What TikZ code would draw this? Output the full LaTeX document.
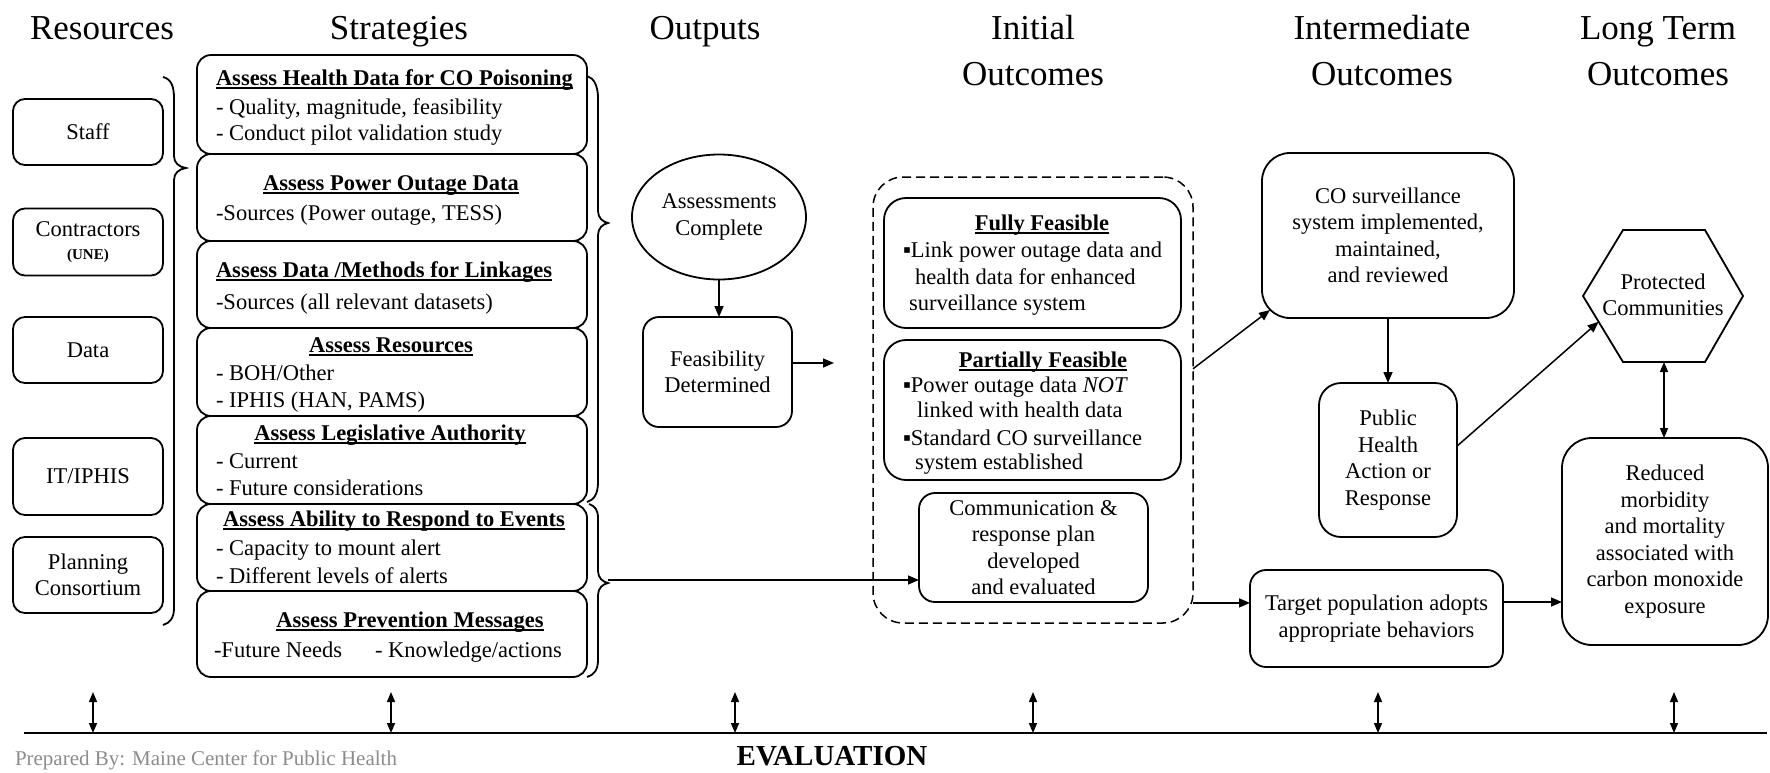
\documentclass[tikz,border=0pt]{standalone}
\usepackage{fontspec}
\setmainfont{Liberation Serif}
\usetikzlibrary{arrows.meta,calc,shapes.geometric}
\definecolor{creditgray}{gray}{0.55}
\newcommand\myttl[1]{\setbox0=\hbox{\bfseries #1}\rlap{\rule[-3.5pt]{\wd0}{1.7pt}}\box0}
\newcommand\bodyfont{\fontsize{22.5}{26.5}\selectfont}
\newcommand\hdrfont{\fontsize{35}{42}\selectfont}
\begin{document}
\begin{tikzpicture}[x=1pt,y=-1pt,
  every node/.style={inner sep=0pt,outer sep=0pt},
  ln/.style={line width=1.8pt},
  hdr/.style={anchor=base,font=\hdrfont},
  box/.style={draw,ln,font=\bodyfont,align=center},
  rbox/.style={box,rounded corners=12pt,minimum width=150pt},
  sbox/.style={draw,ln,rounded corners=14pt,minimum width=390pt},
  tl/.style={anchor=base west,font=\bodyfont},
  tc/.style={anchor=base,font=\bodyfont},
  arr/.style={line width=1.5pt,-{Triangle[length=11pt,width=9pt]}},
  darr/.style={line width=1.5pt,{Triangle[length=10pt,width=8pt]}-{Triangle[length=10pt,width=8pt]}}
]
\useasboundingbox (0,0) rectangle (1770,772);

% headers
\node[hdr] (hres) at (102,39) {Resources};
\node[hdr] (hstr) at (399,39) {Strategies};
\node[hdr] (hout) at (705,39) {Outputs};
\node[hdr] (hini1) at (1033,39) {Initial};
\node[hdr] (hini2) at (1033,85) {Outcomes};
\node[hdr] (hint1) at (1382,39) {Intermediate};
\node[hdr] (hint2) at (1382,85) {Outcomes};
\node[hdr] (hlong1) at (1658,39) {Long Term};
\node[hdr] (hlong2) at (1658,85) {Outcomes};

% resources
\node[rbox,minimum height=66pt] (staff) at (88,132) {Staff};
\node[rbox,minimum height=67pt] (contr) at (88,242) {Contractors\\[-3pt]{\fontsize{15}{16}\selectfont\bfseries (UNE)}};
\node[rbox,minimum height=66pt] (data) at (88,350) {Data};
\node[rbox,minimum height=77pt] (itiphis) at (88,476.5) {IT/IPHIS};
\node[rbox,minimum height=76pt] (plan) at (88,575) {Planning\\Consortium};

\draw[ln] (163,77) .. controls (171,79) and (174,86) .. (174,98) -- (174,156)
  .. controls (174,163) and (179,167) .. (186,168)
  .. controls (179,169) and (174,173) .. (174,180) -- (174,608)
  .. controls (174,618) and (170,623) .. (163,625);

% strategies
\node[sbox,minimum height=99pt] (s1) at (392,104.5) {};
\node[sbox,minimum height=87pt] (s2) at (392,197.5) {};
\node[sbox,minimum height=87pt] (s3) at (392,284.5) {};
\node[sbox,minimum height=88pt] (s4) at (392,372) {};
\node[sbox,minimum height=88pt] (s5) at (392,460) {};
\node[sbox,minimum height=87pt] (s6) at (392,547.5) {};
\node[sbox,minimum height=86pt] (s7) at (392,634) {};

\node[tl] (s1t) at (216,85) {\myttl{Assess Health Data for CO Poisoning}};
\node[tl] (s1a) at (216,114) {- Quality, magnitude, feasibility};
\node[tl] (s1b) at (216,140) {- Conduct pilot validation study};
\node[tc] (s2t) at (391,190) {\myttl{Assess Power Outage Data}};
\node[tl] (s2a) at (216,220) {-Sources (Power outage, TESS)};
\node[tl] (s3t) at (216,277) {\myttl{Assess Data /Methods for Linkages}};
\node[tl] (s3a) at (216,309) {-Sources (all relevant datasets)};
\node[tc] (s4t) at (391,352) {\myttl{Assess Resources}};
\node[tl] (s4a) at (216,380) {- BOH/Other};
\node[tl] (s4b) at (216,407) {- IPHIS (HAN, PAMS)};
\node[tc] (s5t) at (390,440) {\myttl{Assess Legislative Authority}};
\node[tl] (s5a) at (216,468) {- Current};
\node[tl] (s5b) at (216,495) {- Future considerations};
\node[tc] (s6t) at (394,526) {\myttl{Assess Ability to Respond to Events}};
\node[tl] (s6a) at (216,555) {- Capacity to mount alert};
\node[tl] (s6b) at (216,583) {- Different levels of alerts};
\node[tc] (s7t) at (410,627) {\myttl{Assess Prevention Messages}};
\node[tl] (s7a) at (214,657) {-Future Needs};
\node[tl] (s7b) at (375,657) {- Knowledge/actions};

\draw[ln] (587,76) .. controls (594,78) and (598,86) .. (598,98) -- (598,211)
  .. controls (598,218) and (603,222) .. (608,223)
  .. controls (603,224) and (598,228) .. (598,235) -- (598,482)
  .. controls (598,494) and (594,500) .. (587,502);
\draw[ln] (589,504) .. controls (595,506) and (598,510) .. (598,518) -- (598,571)
  .. controls (598,578) and (603,582) .. (608,583)
  .. controls (603,584) and (598,588) .. (598,595) -- (598,660)
  .. controls (598,670) and (594,675) .. (587,677);
\coordinate (bt2) at (608,580);

% outputs
\node[draw,ln,ellipse,minimum width=174pt,minimum height=125pt,font=\bodyfont,align=center] (assess) at (719,217) {Assessments\\Complete};
\node[box,rounded corners=16pt,minimum width=149pt,minimum height=110pt] (feas) at (717.5,372) {Feasibility\\Determined};
\draw[arr] (assess.south) -- (assess.south |- feas.north);
\coordinate (feasend) at (834,363);
\draw[arr] (feas.east |- feasend) -- (feasend);

% initial outcomes
\node[draw,line width=1.5pt,dash pattern=on 9pt off 5pt,rounded corners=30pt,minimum width=320pt,minimum height=446pt] (initbox) at (1033,400) {};
\node[box,rounded corners=22pt,minimum width=297pt,minimum height=130pt] (fully) at (1032.5,263) {};
\node[box,rounded corners=22pt,minimum width=297pt,minimum height=140pt] (partial) at (1032.5,410) {};
\node[tc] (f1t) at (1042,230) {\myttl{Fully Feasible}};
\node[tl] (f1a) at (903,257) {▪Link power outage data and};
\node[tl] (f1b) at (915,284) {health data for enhanced};
\node[tl] (f1c) at (909,310) {surveillance system};
\node[tc] (p1t) at (1043,367) {\myttl{Partially Feasible}};
\node[tl] (p1a) at (903,392) {▪Power outage data \textit{NOT}};
\node[tl] (p1b) at (917,417) {linked with health data};
\node[tl] (p1c) at (903,445) {▪Standard CO surveillance};
\node[tl] (p1d) at (915,469) {system established};
\node[box,rounded corners=16pt,minimum width=229pt,minimum height=109pt] (comm) at (1033.5,547.5) {Communication \&\\response plan\\developed\\and evaluated};
\draw[arr] (bt2) -- (bt2 -| comm.west);

% intermediate outcomes
\node[box,rounded corners=28pt,minimum width=252pt,minimum height=165pt] (cosurv) at (1388,235.5) {CO surveillance\\system implemented,\\maintained,\\and reviewed};
\node[box,rounded corners=22pt,minimum width=138pt,minimum height=154pt] (pha) at (1388,460) {Public\\Health\\Action or\\Response};
\node[box,rounded corners=16pt,minimum width=253pt,minimum height=97pt] (target) at (1376.5,618.5) {Target population adopts\\appropriate behaviors};

% long term outcomes
\coordinate (hxl) at (1583,296);
\coordinate (hxtl) at (1623,230);
\coordinate (hxtr) at (1705,230);
\coordinate (hxr) at (1743,296);
\coordinate (hxbr) at (1705,362);
\coordinate (hxbl) at (1623,362);
\draw[ln] (hxtl) -- (hxtr) -- (hxr) -- (hxbr) -- (hxbl) -- (hxl) -- cycle;
\node[font=\bodyfont,align=center] (prot) at (1663,295) {Protected\\Communities};
\coordinate (hxb) at (1664,362);
\node[box,rounded corners=30pt,minimum width=206pt,minimum height=207pt] (red) at (1665,541.5) {Reduced\\morbidity\\and mortality\\associated with\\carbon monoxide\\exposure};

% connectors
\coordinate (ib1) at ($(initbox.north east)!0.43!(initbox.south east)$);
\draw[arr] (ib1) -- ($(cosurv.south west)+(8,-8)$);
\draw[arr] (cosurv.south) -- (pha.north);
\draw[arr] ($(pha.north east)!0.41!(pha.south east)$) -- ($(hxl)!0.39!(hxbl)$);
\draw[darr] (hxb) -- (hxb |- red.north);
\coordinate (ib2) at ($(initbox.north east)!0.955!(initbox.south east)$);
\draw[arr] (ib2) -- (ib2 -| target.west);
\coordinate (tg2) at ($(target.north east)!0.33!(target.south east)$);
\draw[arr] (tg2) -- (tg2 -| red.west);

% evaluation
\coordinate (evL) at (24,733);
\coordinate (evR) at (1767,733);
\draw[ln] (evL) -- (evR);
\foreach \xx [count=\i] in {93,391,735,1033,1378,1674} {
  \coordinate (tt\i) at (\xx,692);
  \draw[darr] (tt\i) -- (tt\i |- evL);
}
\node[font=\fontsize{29}{34}\selectfont\bfseries,anchor=base] (evaltxt) at (832,765) {EVALUATION};
\node[font=\fontsize{21}{25}\selectfont,text=creditgray,anchor=base west] (credit) at (15,765) {Prepared By: Maine Center for Public Health};
\end{tikzpicture}
\end{document}
